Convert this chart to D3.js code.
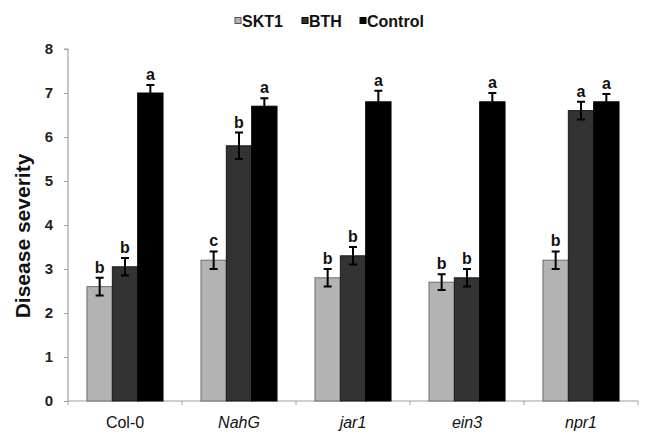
<!DOCTYPE html>
<html><head><meta charset="utf-8">
<script src="https://cdn.jsdelivr.net/npm/d3@7"></script>
<style>body{margin:0;background:#fff}svg{display:block}text{font-family:Arial,"Liberation Sans",sans-serif}</style>
</head><body>
<script>
const categories = ["Col-0","NahG","jar1","ein3","npr1"];
const italicCats = [false,true,true,true,true];
const seriesNames = ["SKT1","BTH","Control"];
const skt1 = [2.6,3.2,2.8,2.7,3.2];
const bth = [3.05,5.8,3.3,2.8,6.6];
const control = [7.0,6.7,6.8,6.8,6.8];
const skt1Err = [0.2,0.2,0.2,0.18,0.2];
const bthErr = [0.2,0.3,0.2,0.2,0.2];
const controlErr = [0.18,0.18,0.25,0.2,0.18];
const skt1Letters = ["b","c","b","b","b"];
const bthLetters = ["b","b","b","b","a"];
const controlLetters = ["a","a","a","a","a"];
const yTicks = [0,1,2,3,4,5,6,7,8];

const colors = ["#b3b3b3","#333333","#000000"];
const strokes = ["#6e6e6e","#1a1a1a","#000000"];
const values = [skt1,bth,control], errs=[skt1Err,bthErr,controlErr], letters=[skt1Letters,bthLetters,controlLetters];

const W=653,H=442;
const svg=d3.select("body").append("svg").attr("width",W).attr("height",H);
const x0=68,x1=638,yb=401,yt=49;
const x=d3.scaleBand().domain(categories).range([x0,x1]).paddingInner(0.333).paddingOuter(0.1665);
const xs=d3.scaleBand().domain(seriesNames).range([0,x.bandwidth()]);
const y=d3.scaleLinear().domain([0,8]).range([yb,yt]);

// y axis
const ya=svg.append("g").attr("transform",`translate(${x0},0)`).call(d3.axisLeft(y).tickValues(yTicks).tickSize(4).tickPadding(11));
ya.select(".domain").attr("stroke","#a0a0a0").attr("stroke-width",1.2).attr("d",`M-4,${yt}H0V${yb}`);
ya.selectAll(".tick line").attr("stroke","#a0a0a0");
ya.selectAll(".tick text").attr("font-size",15).attr("font-weight","bold").attr("fill","#222");

// x axis
svg.append("line").attr("x1",x0).attr("x2",x1).attr("y1",yb).attr("y2",yb).attr("stroke","#a0a0a0").attr("stroke-width",1.2);
const step=x.step();
for(let i=0;i<=categories.length;i++){
  const xx=x0+i*step;
  svg.append("line").attr("x1",xx).attr("x2",xx).attr("y1",yb).attr("y2",yb+4).attr("stroke","#a0a0a0");
}
svg.selectAll(".cat").data(categories).enter().append("text")
  .attr("x",d=>x(d)+x.bandwidth()/2).attr("y",428).attr("text-anchor","middle")
  .attr("font-size",16).attr("fill","#111")
  .attr("font-style",(d,i)=>italicCats[i]?"italic":"normal").text(d=>d);

// bars
seriesNames.forEach((s,si)=>{
  const g=svg.append("g");
  categories.forEach((c,ci)=>{
    const v=values[si][ci], e=errs[si][ci];
    const bx=x(c)+xs(s), bw=xs.bandwidth();
    g.append("rect").attr("x",bx).attr("y",y(v)).attr("width",bw).attr("height",y(0)-y(v))
      .attr("fill",colors[si]).attr("stroke",strokes[si]).attr("stroke-width",1);
    const cx=bx+bw/2;
    g.append("path").attr("d",`M${cx-4},${y(v+e)}H${cx+4}M${cx},${y(v+e)}V${y(v-e)}M${cx-4},${y(v-e)}H${cx+4}`)
      .attr("stroke","#000").attr("stroke-width",2).attr("fill","none");
    g.append("text").attr("x",cx).attr("y",y(v+e)-5).attr("text-anchor","middle")
      .attr("font-size",16).attr("font-weight","bold").attr("fill","#111").text(letters[si][ci]);
  });
});

// y title
svg.append("text").attr("transform",`translate(30,${(yb+yt)/2+11}) rotate(-90)`).attr("text-anchor","middle")
  .attr("font-size",21).attr("font-weight","bold").attr("fill","#111").text("Disease severity");

// legend
const legX=[235,302,360];
seriesNames.forEach((s,i)=>{
  svg.append("rect").attr("x",legX[i]).attr("y",17.5).attr("width",6).attr("height",6)
    .attr("fill",colors[i]).attr("stroke",i==0?"#555":"#000").attr("stroke-width",1);
  svg.append("text").attr("x",legX[i]+7).attr("y",27).attr("font-size",16).attr("font-weight","bold").attr("fill","#111").text(s);
});
</script>
</body></html>
